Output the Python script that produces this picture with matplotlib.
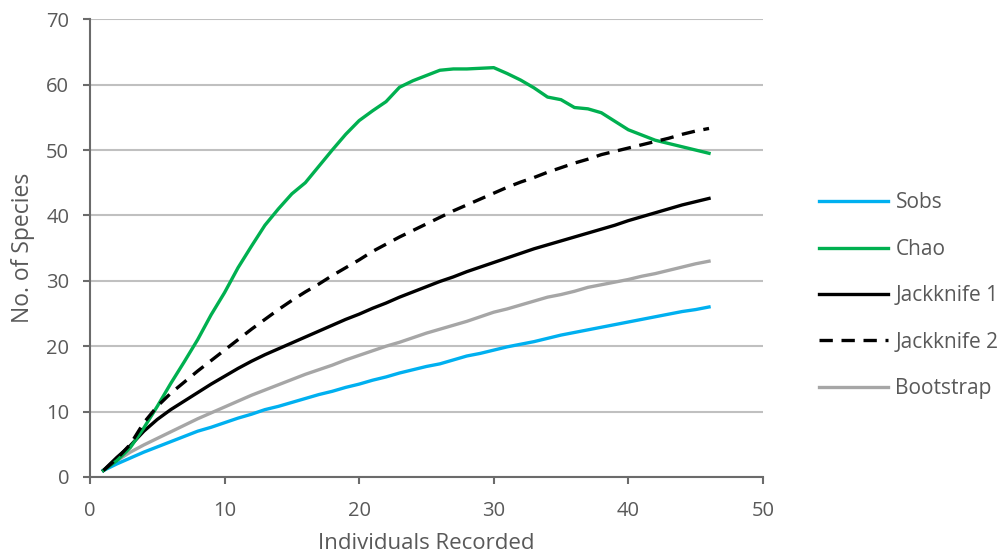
import matplotlib
matplotlib.use("Agg")
import matplotlib.pyplot as plt

individuals = list(range(1, 47))
sobs = [1, 2, 2.9, 3.8, 4.6, 5.4, 6.2, 7, 7.6, 8.3, 9, 9.6, 10.3, 10.8, 11.4, 12, 12.6, 13.1, 13.7, 14.2,
        14.8, 15.3, 15.9, 16.4, 16.9, 17.3, 17.9, 18.5, 18.9, 19.4, 19.9, 20.3, 20.7, 21.2, 21.7, 22.1,
        22.5, 22.9, 23.3, 23.7, 24.1, 24.5, 24.9, 25.3, 25.6, 26]
chao = [1, 2.5, 4.5, 7.5, 10.8, 14.3, 17.6, 21, 24.8, 28.2, 32, 35.3, 38.5, 41, 43.3, 45, 47.5, 50, 52.4,
        54.5, 56, 57.4, 59.6, 60.6, 61.4, 62.2, 62.4, 62.4, 62.5, 62.6, 61.7, 60.7, 59.5, 58.1, 57.7, 56.5,
        56.3, 55.7, 54.4, 53.1, 52.3, 51.5, 51, 50.5, 50, 49.5]
jack1 = [1, 3, 4.8, 7, 8.8, 10.3, 11.6, 12.9, 14.2, 15.4, 16.6, 17.7, 18.7, 19.6, 20.5, 21.4, 22.3, 23.2,
         24.1, 24.9, 25.8, 26.6, 27.5, 28.3, 29.1, 29.9, 30.6, 31.4, 32.1, 32.8, 33.5, 34.2, 34.9, 35.5,
         36.1, 36.7, 37.3, 37.9, 38.5, 39.2, 39.8, 40.4, 41, 41.6, 42.1, 42.6]
jack2 = [1, 2.8, 5, 8.3, 10.8, 12.8, 14.5, 16.2, 17.8, 19.4, 21, 22.6, 24.1, 25.6, 27, 28.3, 29.5, 30.8,
         32, 33.2, 34.5, 35.6, 36.7, 37.7, 38.7, 39.7, 40.7, 41.6, 42.5, 43.4, 44.3, 45.1, 45.8, 46.6,
         47.3, 48, 48.6, 49.3, 49.8, 50.3, 50.8, 51.3, 51.8, 52.4, 52.9, 53.3]
bootstrap = [1, 2.5, 3.8, 4.9, 5.9, 6.9, 7.9, 8.9, 9.8, 10.7, 11.6, 12.5, 13.3, 14.1, 14.9, 15.7, 16.4,
             17.1, 17.9, 18.6, 19.3, 20, 20.6, 21.3, 22, 22.6, 23.2, 23.8, 24.5, 25.2, 25.7, 26.3, 26.9,
             27.5, 27.9, 28.4, 29, 29.4, 29.8, 30.2, 30.7, 31.1, 31.6, 32.1, 32.6, 33]
series_names = ["Sobs", "Chao", "Jackknife 1", "Jackknife 2", "Bootstrap"]
x_ticks = [0, 10, 20, 30, 40, 50]
y_ticks = [0, 10, 20, 30, 40, 50, 60, 70]

plt.rcParams['font.family'] = ['Open Sans', 'DejaVu Sans']

fig = plt.figure(figsize=(10.01, 5.58), dpi=100)
ax = fig.add_axes([0.0899, 0.1452, 0.6722, 0.8203])

lw = 2.4
ax.plot(individuals, bootstrap, color="#a6a6a6", lw=lw, label=series_names[4], zorder=3)
ax.plot(individuals, sobs, color="#00b0f0", lw=lw, label=series_names[0], zorder=3)
ax.plot(individuals, jack1, color="black", lw=lw, label=series_names[2], zorder=3)
ax.plot(individuals, chao, color="#00b050", lw=lw, label=series_names[1], zorder=3)
ax.plot(individuals, jack2, color="black", lw=lw, ls=(0, (4, 2.6)), label=series_names[3], zorder=4)

ax.set_xlim(0, 50)
ax.set_ylim(0, 70)
ax.set_xticks(x_ticks)
ax.set_yticks(y_ticks)
ax.yaxis.grid(True, color="#c0c0c0", lw=1.5)
ax.set_axisbelow(True)
for s in ["top", "right"]:
    ax.spines[s].set_visible(False)
for s in ["left", "bottom"]:
    ax.spines[s].set_color("#6b6b6b")
    ax.spines[s].set_linewidth(1.5)
ax.tick_params(axis="both", direction="out", length=5, width=1.5, color="#6b6b6b",
               labelsize=14.5, labelcolor="#595959")
ax.tick_params(axis="x", pad=12)
ax.tick_params(axis="y", pad=10)
ax.set_xlabel("Individuals Recorded", fontsize=16, color="#595959", labelpad=9)
ax.set_ylabel("No. of Species", fontsize=16.5, color="#595959", labelpad=8)

handles, labels = ax.get_legend_handles_labels()
order = [labels.index(n) for n in series_names]
leg = fig.legend([handles[i] for i in order], [labels[i] for i in order],
                 loc="center left", bbox_to_anchor=(0.818, 0.47), frameon=False,
                 fontsize=15, labelspacing=1.22, handlelength=3.3, handletextpad=0.38,
                 borderaxespad=0, borderpad=0)
for t in leg.get_texts():
    t.set_color("#595959")

fig.savefig("out.png", dpi=100)
